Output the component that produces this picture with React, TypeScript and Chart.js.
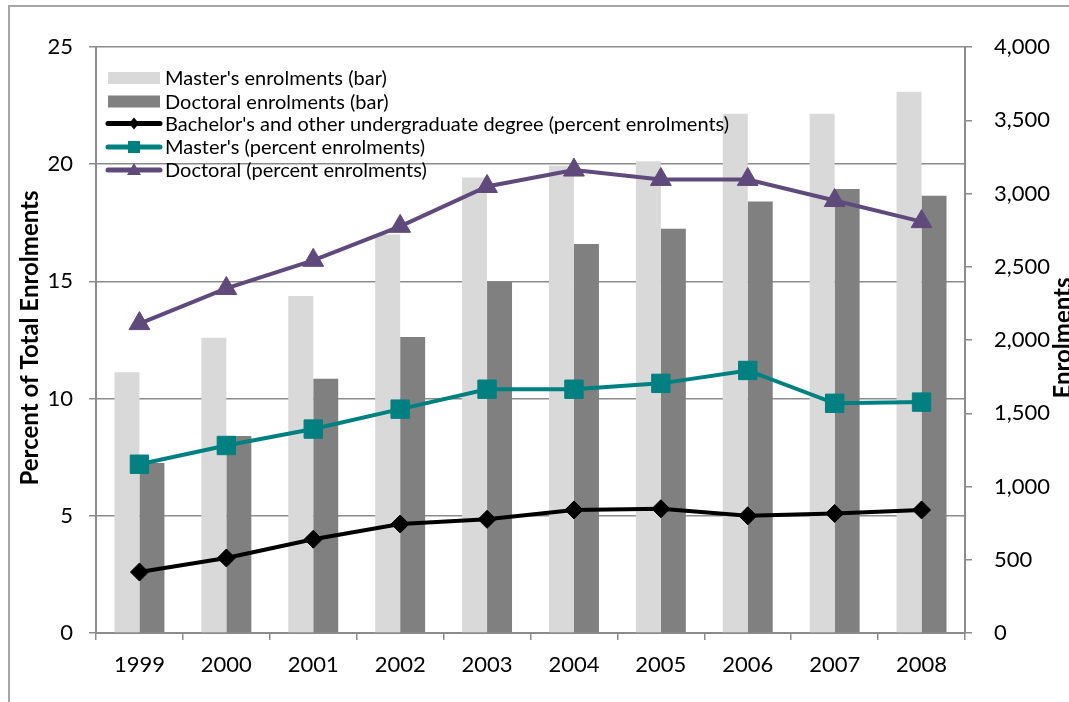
import React, { useEffect, useRef } from "react";
import { Chart, registerables } from "chart.js";

Chart.register(...registerables);

const years = ["1999", "2000", "2001", "2002", "2003", "2004", "2005", "2006", "2007", "2008"];
const mastersEnrol = [1780, 2015, 2300, 2720, 3110, 3190, 3220, 3545, 3545, 3695];
const doctoralEnrol = [1160, 1345, 1735, 2020, 2400, 2655, 2760, 2945, 3030, 2985];
const bachelorPct = [2.6, 3.2, 4.0, 4.65, 4.85, 5.25, 5.3, 5.0, 5.1, 5.25];
const mastersPct = [7.2, 8.0, 8.7, 9.55, 10.4, 10.4, 10.65, 11.2, 9.8, 9.85];
const doctoralPct = [13.2, 14.7, 15.9, 17.35, 19.05, 19.75, 19.35, 19.35, 18.45, 17.55];

const FONT = "Lato, 'Liberation Sans', sans-serif";
const LIGHT = "#d9d9d9";
const DARK = "#808080";
const BLACK = "#000000";
const TEAL = "#008080";
const PURPLE = "#604a7b";
const GRID = "#8c8c8c";

const legendItems = [
  { label: "Master's enrolments (bar)", kind: "bar", color: LIGHT },
  { label: "Doctoral enrolments (bar)", kind: "bar", color: DARK },
  { label: "Bachelor's and other undergraduate degree (percent enrolments)", kind: "line", color: BLACK, marker: "diamond" },
  { label: "Master's (percent enrolments)", kind: "line", color: TEAL, marker: "square" },
  { label: "Doctoral (percent enrolments)", kind: "line", color: PURPLE, marker: "triangle" },
];

const overlayPlugin = {
  id: "overlay",
  afterDraw(chart: any) {
    const ctx = chart.ctx as CanvasRenderingContext2D;
    const area = chart.chartArea;
    ctx.save();
    // legend
    const x0 = area.left + 12;
    const symW = 52;
    const rowYs = [71, 94.5, 116.5, 140, 163];
    ctx.font = `20px ${FONT}`;
    ctx.textBaseline = "middle";
    ctx.textAlign = "left";
    legendItems.forEach((it, i) => {
      const y = rowYs[i];
      if (it.kind === "bar") {
        ctx.fillStyle = it.color;
        ctx.fillRect(x0, y - 6, symW, 12);
      } else {
        ctx.strokeStyle = it.color;
        ctx.fillStyle = it.color;
        ctx.lineWidth = 5;
        ctx.lineCap = "round";
        ctx.beginPath();
        ctx.moveTo(x0, y);
        ctx.lineTo(x0 + symW, y);
        ctx.stroke();
        const cx = x0 + symW / 2;
        ctx.beginPath();
        if (it.marker === "diamond") {
          ctx.moveTo(cx, y - 6);
          ctx.lineTo(cx + 5, y);
          ctx.lineTo(cx, y + 6);
          ctx.lineTo(cx - 5, y);
        } else if (it.marker === "square") {
          ctx.rect(cx - 6, y - 6, 12, 12);
        } else {
          ctx.moveTo(cx, y - 7);
          ctx.lineTo(cx + 7, y + 5);
          ctx.lineTo(cx - 7, y + 5);
        }
        ctx.closePath();
        ctx.fill();
      }
      ctx.fillStyle = "#000";
      ctx.fillText(it.label, x0 + symW + 5, y + 1);
    });
    // axis titles
    const midY = (area.top + area.bottom) / 2 - 2;
    ctx.font = `bold 24px ${FONT}`;
    ctx.textAlign = "center";
    ctx.textBaseline = "alphabetic";
    ctx.fillStyle = "#000";
    ctx.save();
    ctx.translate(28, midY);
    ctx.rotate(-Math.PI / 2);
    ctx.fillText("Percent of Total Enrolments", 0, 0);
    ctx.restore();
    ctx.save();
    ctx.translate(1061, midY);
    ctx.rotate(-Math.PI / 2);
    ctx.fillText("Enrolments", 0, 0);
    ctx.restore();
    ctx.restore();
  },
};

export default function App() {
  const ref = useRef<HTMLCanvasElement>(null);
  useEffect(() => {
    if (!ref.current) return;
    const chart = new Chart(ref.current, {
      type: "bar",
      data: {
        labels: years,
        datasets: [
          {
            type: "line",
            label: "Bachelor's and other undergraduate degree (percent enrolments)",
            data: bachelorPct,
            yAxisID: "y",
            borderColor: BLACK,
            backgroundColor: BLACK,
            borderWidth: 4,
            pointStyle: "rectRot",
            pointRadius: 9,
            pointBorderWidth: 1,
            order: 1,
          },
          {
            type: "line",
            label: "Master's (percent enrolments)",
            data: mastersPct,
            yAxisID: "y",
            borderColor: TEAL,
            backgroundColor: TEAL,
            borderWidth: 4,
            pointStyle: "rect",
            pointRadius: 13,
            pointBorderWidth: 1,
            order: 1,
          },
          {
            type: "line",
            label: "Doctoral (percent enrolments)",
            data: doctoralPct,
            yAxisID: "y",
            borderColor: PURPLE,
            backgroundColor: PURPLE,
            borderWidth: 4,
            pointStyle: "triangle",
            pointRadius: 12,
            pointBorderWidth: 1,
            order: 1,
          },
          {
            type: "bar",
            label: "Master's enrolments (bar)",
            data: mastersEnrol,
            yAxisID: "y1",
            backgroundColor: LIGHT,
            barPercentage: 1,
            categoryPercentage: 0.575,
            order: 2,
          },
          {
            type: "bar",
            label: "Doctoral enrolments (bar)",
            data: doctoralEnrol,
            yAxisID: "y1",
            backgroundColor: DARK,
            barPercentage: 1,
            categoryPercentage: 0.575,
            order: 2,
          },
        ],
      },
      options: {
        responsive: false,
        animation: false,
        layout: { padding: { top: 40, left: 0, right: 0, bottom: 0 } },
        plugins: { legend: { display: false }, tooltip: { enabled: false } },
        scales: {
          x: {
            type: "category",
            offset: true,
            grid: { offset: true, drawOnChartArea: false, color: GRID, tickLength: 7, lineWidth: 1.5 },
            border: { color: GRID, width: 2 },
            ticks: { color: "#000", font: { family: FONT, size: 22 }, padding: 12, maxRotation: 0 },
            afterFit: (s: any) => { s.height = 69; },
          },
          y: {
            position: "left",
            min: 0,
            max: 25,
            ticks: { stepSize: 5, color: "#000", font: { family: FONT, size: 22 }, padding: 16 },
            grid: { color: GRID, lineWidth: 1.5, tickLength: 7 },
            border: { color: GRID, width: 2 },
            afterFit: (s: any) => { s.width = 86; },
          },
          y1: {
            position: "right",
            min: 0,
            max: 4000,
            ticks: {
              stepSize: 500,
              color: "#000",
              font: { family: FONT, size: 22 },
              padding: 22,
              callback: (v: any) => Number(v).toLocaleString("en-US"),
            },
            grid: { drawOnChartArea: false, color: GRID, lineWidth: 1.5, tickLength: 7 },
            border: { color: GRID, width: 2 },
            afterFit: (s: any) => { s.width = 104; },
          },
        },
      },
      plugins: [overlayPlugin],
    });
    return () => chart.destroy();
  }, []);
  return (
    <div
      style={{
        position: "absolute",
        left: 8,
        top: 5,
        width: 1059,
        height: 695,
        borderLeft: "2px solid #a6a6a6",
        borderTop: "2px solid #a6a6a6",
        background: "#fff",
      }}
    >
      <canvas ref={ref} width={1059} height={695} style={{ display: "block" }} />
    </div>
  );
}
